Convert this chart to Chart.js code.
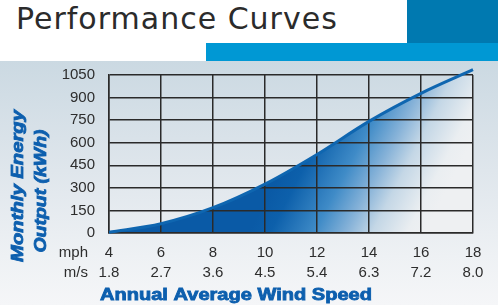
<!DOCTYPE html>
<html lang="en">
<head>
<meta charset="UTF-8">
<title>Performance Curves</title>
<style>
  body { margin: 0; padding: 0; background: #fff; }
  #page { position: relative; width: 498px; height: 305px; overflow: hidden; background: #fff; }
  #page div { position: absolute; }
  #blockDark { left: 407px; top: 0; width: 91px; height: 43px; background: #0079b0; }
  #barLight { left: 206px; top: 43px; width: 292px; height: 18px; background: #0098d4; }
  #band { left: 0; top: 61px; width: 498px; height: 244px;
          background: linear-gradient(to bottom, #cbd9e2 0%, #dfe6ec 45%, #eef1f4 80%, #f5f6f8 100%); }
  #heading { left: 16px; top: 4px; font: 30px/30px "DejaVu Sans", sans-serif; letter-spacing: 1px;
             color: #2b2b2b; white-space: nowrap; }
  canvas { position: absolute; left: 0; top: 0; }
</style>
<script src="https://cdn.jsdelivr.net/npm/chart.js@4.4.0/dist/chart.umd.min.js"></script>
</head>
<body>
<div id="page">
  <div id="blockDark"></div>
  <div id="barLight"></div>
  <div id="band"></div>
  <div id="heading">Performance Curves</div>
  <canvas id="chart" width="498" height="305"></canvas>
</div>
<script>
// wind speed ticks, mph and m/s
const speedMph = [4, 6, 8, 10, 12, 14, 16, 18];
const speedMs = ['1.8', '2.7', '3.6', '4.5', '5.4', '6.3', '7.2', '8.0'];
// monthly energy output (kWh) read at each tick
const energyKwh = [5, 62, 168, 325, 522, 742, 928, 1085];
const yTickValues = [0, 150, 300, 450, 600, 750, 900, 1050];

const blue = '#0d5fae';
const gridColor = '#2a2a2a';

function fillGradient(context) {
    const chart = context.chart;
    const ca = chart.chartArea;
    if (!ca) return '#0a5aa6';
    const g = chart.ctx.createLinearGradient(ca.left + 144, ca.bottom - 8, ca.left + 282, ca.bottom + 64);
    g.addColorStop(0, '#0a5aa6');
    g.addColorStop(0.12, '#0d60ab');
    g.addColorStop(0.37, '#3f8bc7');
    g.addColorStop(0.55, '#86b2d8');
    g.addColorStop(0.7, '#c4d7e6');
    g.addColorStop(0.9, '#eaeef1');
    g.addColorStop(1, '#eef0f2');
    return g;
}

// squeezed / stretched heavy text
function wideText(ctx, text, cx, cy, width, font) {
    ctx.save();
    ctx.font = font;
    ctx.textAlign = 'center';
    ctx.textBaseline = 'middle';
    const w = ctx.measureText(text).width;
    ctx.translate(cx, cy);
    ctx.scale(width / w, 1);
    ctx.fillStyle = blue;
    ctx.strokeStyle = blue;
    ctx.lineWidth = 0.8;
    ctx.fillText(text, 0, 0);
    ctx.strokeText(text, 0, 0);
    ctx.restore();
}

const labelsPlugin = {
    id: 'extraLabels',
    afterDraw(chart) {
        const ctx = chart.ctx;
        ctx.save();
        ctx.font = '15px "Liberation Sans", Arial, sans-serif';
        ctx.fillStyle = '#2d2d2d';
        ctx.textAlign = 'right';
        ctx.textBaseline = 'middle';
        ctx.fillText('mph', 88, 253);
        ctx.fillText('m/s', 88, 273);
        ctx.restore();

        wideText(ctx, 'Annual Average Wind Speed', 236, 296, 272, 'bold 16px "Liberation Sans", Arial, sans-serif');

        ctx.save();
        ctx.translate(18, 186);
        ctx.rotate(-Math.PI / 2);
        wideText(ctx, 'Monthly Energy', 0, 0, 152, 'bold italic 17px "Liberation Sans", Arial, sans-serif');
        ctx.restore();
        ctx.save();
        ctx.translate(41, 191);
        ctx.rotate(-Math.PI / 2);
        wideText(ctx, 'Output (kWh)', 0, 0, 123, 'bold italic 17px "Liberation Sans", Arial, sans-serif');
        ctx.restore();
    }
};

new Chart(document.getElementById('chart'), {
    type: 'line',
    data: {
        datasets: [{
            data: speedMph.map((x, i) => ({ x: x, y: energyKwh[i] })),
            borderColor: '#0f66b0',
            borderWidth: 3,
            backgroundColor: fillGradient,
            fill: 'origin',
            pointRadius: 0,
            cubicInterpolationMode: 'monotone',
            clip: false
        }]
    },
    options: {
        responsive: false,
        animation: false,
        layout: { padding: { top: 75, right: 25, left: 0, bottom: 0 } },
        plugins: {
            legend: { display: false },
            tooltip: { enabled: false },
            filler: { drawTime: 'beforeDraw' }
        },
        scales: {
            x: {
                type: 'linear',
                min: 4,
                max: 18,
                afterFit: s => { s.height = 72; },
                afterBuildTicks: s => { s.ticks = speedMph.map(v => ({ value: v })); },
                grid: { color: gridColor, lineWidth: 1.5, drawTicks: false },
                border: { color: gridColor, width: 1.5 },
                ticks: {
                    padding: 10,
                    maxRotation: 0,
                    color: '#2d2d2d',
                    font: { family: '"Liberation Sans", Arial, sans-serif', size: 15, lineHeight: 1.33 },
                    callback: v => [String(v), speedMs[speedMph.indexOf(v)]]
                }
            },
            y: {
                min: 0,
                max: 1050,
                afterFit: s => { s.width = 109; },
                afterBuildTicks: s => { s.ticks = yTickValues.map(v => ({ value: v })); },
                grid: { color: gridColor, lineWidth: 1.5, drawTicks: false },
                border: { color: gridColor, width: 1.5 },
                ticks: {
                    padding: 14,
                    color: '#2d2d2d',
                    font: { family: '"Liberation Sans", Arial, sans-serif', size: 15 },
                    callback: v => String(v)
                }
            }
        }
    },
    plugins: [labelsPlugin]
});
</script>
</body>
</html>
